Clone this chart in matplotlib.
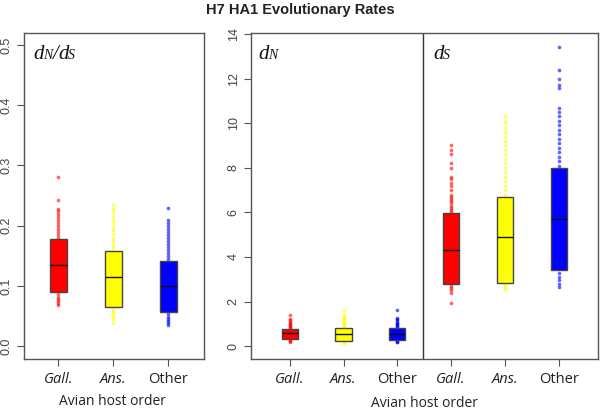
import matplotlib
matplotlib.use("Agg")
import matplotlib.pyplot as plt

title = "H7 HA1 Evolutionary Rates"
groups = ["Gall.", "Ans.", "Other"]
colors = ["#ff0000", "#ffff00", "#0000ff"]

# dN/dS: (q1, median, q3)
dnds_box = [(0.090, 0.135, 0.177), (0.064, 0.114, 0.158), (0.057, 0.100, 0.141)]
dnds_out = [
    [0.180, 0.185, 0.190, 0.195, 0.200, 0.205, 0.210, 0.215, 0.220, 0.225, 0.228, 0.243, 0.280,
     0.086, 0.082, 0.078, 0.074, 0.071, 0.068],
    [0.162, 0.168, 0.174, 0.180, 0.186, 0.192, 0.198, 0.204, 0.210, 0.216, 0.222, 0.228, 0.235,
     0.060, 0.056, 0.052, 0.048, 0.045, 0.038],
    [0.145, 0.150, 0.155, 0.160, 0.165, 0.170, 0.175, 0.180, 0.185, 0.190, 0.195, 0.200, 0.205,
     0.210, 0.229, 0.053, 0.049, 0.045, 0.041, 0.038, 0.035],
]

# dN and dS: (q1, median, q3)
dn_box = [(0.33, 0.57, 0.75), (0.22, 0.55, 0.83), (0.28, 0.56, 0.80)]
dn_out = [
    [0.80, 0.85, 0.90, 0.95, 1.00, 1.05, 1.10, 1.15, 1.20, 1.40, 0.28, 0.24, 0.20],
    [0.88, 0.95, 1.00, 1.05, 1.10, 1.15, 1.20, 1.25, 1.30, 1.38, 1.60, 0.18, 0.15],
    [0.85, 0.90, 0.95, 1.00, 1.05, 1.10, 1.15, 1.20, 1.25, 1.60, 0.24, 0.20, 0.17],
]
ds_box = [(2.80, 4.30, 5.95), (2.85, 4.90, 6.70), (3.40, 5.70, 8.00)]
ds_out = [
    [6.00, 6.10, 6.20, 6.30, 6.40, 6.50, 6.60, 6.70, 6.80, 7.00, 7.20, 7.30, 7.50, 7.60,
     8.00, 8.20, 8.60, 8.80, 9.00, 2.70, 2.60, 2.50, 2.40, 1.95],
    [6.80, 7.00, 7.20, 7.40, 7.60, 7.80, 8.00, 8.20, 8.40, 8.60, 8.80, 9.00, 9.20, 9.40,
     9.60, 9.80, 10.00, 10.10, 10.30, 2.75, 2.65, 2.55],
    [8.10, 8.30, 8.50, 8.70, 8.90, 9.10, 9.30, 9.50, 9.70, 9.90, 10.10, 10.30, 10.50,
     10.70, 11.60, 11.70, 12.00, 12.40, 13.40, 3.30, 3.10, 2.95, 2.80, 2.65],
]

dnds_ticks = [0.0, 0.1, 0.2, 0.3, 0.4, 0.5]
rate_ticks = [0, 2, 4, 6, 8, 10, 12, 14]
xlabel = "Avian host order"

tickfont = "Open Sans"
serif = "Liberation Serif"
edge = "#444444"

fig = plt.figure(figsize=(6.0, 4.12), dpi=100)


def draw_boxes(ax, boxes, outs, positions, width):
    for (q1, med, q3), out, pos, col in zip(boxes, outs, positions, colors):
        ax.scatter([pos] * len(out), out, s=7, color=col, alpha=0.6, lw=0, zorder=2)
        stats = [dict(q1=q1, med=med, q3=q3, whislo=q1, whishi=q3, fliers=[])]
        ax.bxp(stats, positions=[pos], widths=width, showfliers=False, showcaps=False,
               patch_artist=True, manage_ticks=False,
               boxprops=dict(facecolor=col, edgecolor=edge, linewidth=1.0),
               medianprops=dict(color="#111111", linewidth=1.0),
               whiskerprops=dict(linewidth=0), zorder=3)


def style(ax):
    for s in ax.spines.values():
        s.set_color("#555555")
        s.set_linewidth(1.0)
    ax.tick_params(axis="both", direction="out", length=5, color="#555555")
    ax.tick_params(axis="x", pad=4.5)
    ax.tick_params(axis="y", pad=3, labelsize=9, labelcolor="#444444")
    for lab in ax.get_yticklabels():
        lab.set_rotation(90)
        lab.set_va("center")
        lab.set_family("Liberation Sans")


def set_xlabels(ax, positions, labels):
    ax.set_xticks(positions)
    ax.set_xticklabels(labels, fontsize=10.5, family=tickfont, color="#222222")
    for lab in ax.get_xticklabels():
        if lab.get_text() != "Other":
            lab.set_style("italic")


def piece(ax, x, y, s, dx, size):
    ax.annotate(s, xy=(x, y), xycoords="axes fraction", xytext=(dx, 0),
                textcoords="offset points", fontsize=size, family=serif,
                style="italic", va="baseline", ha="left", color="#111111")


def rate_label(ax, x, y, sub1, sub2=None):
    piece(ax, x, y, "d", 0, 15)
    piece(ax, x, y, sub1, 7.2, 10)
    if sub2:
        piece(ax, x, y, "/", 14.2, 15)
        piece(ax, x, y, "d", 18.0, 15)
        piece(ax, x, y, sub2, 25.2, 10)


# Left panel
ax1 = fig.add_axes([0.040, 0.1286, 0.300, 0.7913])
draw_boxes(ax1, dnds_box, dnds_out, [1, 2, 3], 0.31)
ax1.set_xlim(0.38, 3.65)
ax1.set_ylim(-0.0216, 0.52)
ax1.set_yticks(dnds_ticks)
ax1.set_yticklabels(["0.0", "0.1", "0.2", "0.3", "0.4", "0.5"])
set_xlabels(ax1, [1, 2, 3], groups)
style(ax1)
rate_label(ax1, 0.05, 0.92, "N", "S")
fig.text(0.188, 0.026, xlabel, ha="center", va="center", fontsize=10, family=tickfont,
         color="#222222")

# Right panel
ax2 = fig.add_axes([0.418, 0.1286, 0.578, 0.7913])
draw_boxes(ax2, dn_box, dn_out, [1, 2, 3], 0.30)
draw_boxes(ax2, ds_box, ds_out, [4, 5, 6], 0.30)
ax2.axvline(3.47, color="#333333", lw=1.0)
ax2.set_xlim(0.275, 6.725)
ax2.set_ylim(-0.58, 14.045)
ax2.set_yticks(rate_ticks)
ax2.set_yticklabels([str(v) for v in rate_ticks])
set_xlabels(ax2, [1, 2, 3, 4, 5, 6], groups + groups)
style(ax2)
rate_label(ax2, 0.022, 0.92, "N")
rate_label(ax2, 0.525, 0.92, "S")
fig.text(0.707, 0.02, xlabel, ha="center", va="center", fontsize=10, family=tickfont,
         color="#222222")

fig.text(0.5, 0.976, title, ha="center", va="center", fontsize=10.5, fontweight="bold",
         family="Liberation Sans", color="#222222")

fig.savefig("out.png", dpi=100)
